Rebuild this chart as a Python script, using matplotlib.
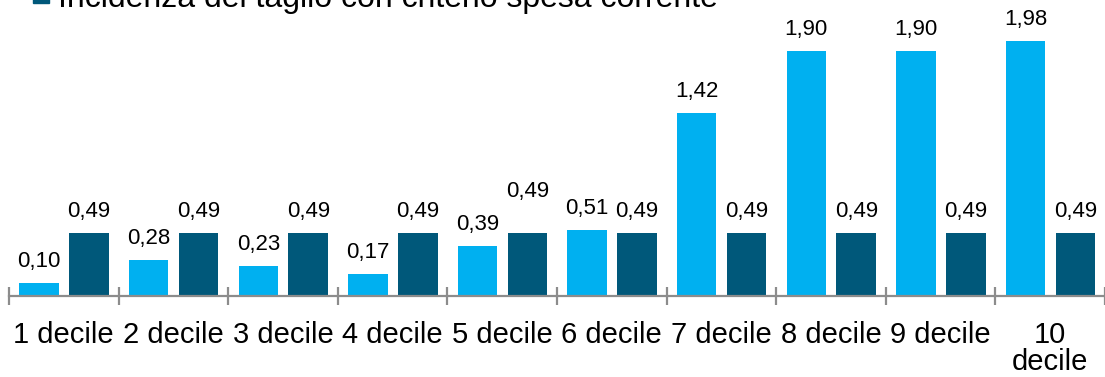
import matplotlib.pyplot as plt
from matplotlib.patches import Rectangle
import numpy as np

plt.rcParams["font.family"] = ["Liberation Sans", "DejaVu Sans"]

deciles = ["1 decile", "2 decile", "3 decile", "4 decile", "5 decile",
           "6 decile", "7 decile", "8 decile", "9 decile", "10\ndecile"]
lineare = [0.10, 0.28, 0.23, 0.17, 0.39, 0.51, 1.42, 1.90, 1.90, 1.98]
spesa_corrente = [0.49, 0.49, 0.49, 0.49, 0.49, 0.49, 0.49, 0.49, 0.49, 0.49]
legend_label = "Incidenza del taglio con criterio spesa corrente"

light = "#00B0F0"
dark = "#00587A"
axis_grey = "#8C8C8C"

W, H = 1105, 377
fig = plt.figure(figsize=(W / 100, H / 100), dpi=100)
# plot area: axis line 81px above the bottom, 110px per decile
ax = fig.add_axes([9 / W, 81 / H, 1096 / W, 296 / H])
ax.set_xlim(-0.5, -0.5 + 1096 / 110)
ax.set_ylim(0, 296 / 129)

x = np.arange(len(deciles))
width = 0.36
b1 = ax.bar(x - 0.225, lineare, width, color=light)
b2 = ax.bar(x + 0.23, spesa_corrente, width, color=dark)

def fmt(v):
    return "{:.2f}".format(v).replace(".", ",")

for rect, v in zip(b1, lineare):
    ax.annotate(fmt(v), (rect.get_x() + rect.get_width() / 2, v),
                xytext=(0, 11.5), textcoords="offset points",
                ha="center", va="baseline", fontsize=16)
for i, (rect, v) in enumerate(zip(b2, spesa_corrente)):
    lift = 14 if i == 4 else 0  # keep clear of the neighbouring label
    ax.annotate(fmt(v), (rect.get_x() + rect.get_width() / 2, v),
                xytext=(0, 11.5 + lift), textcoords="offset points",
                ha="center", va="baseline", fontsize=16)

for s in ["top", "left", "right"]:
    ax.spines[s].set_visible(False)
ax.spines["bottom"].set_color(axis_grey)
ax.spines["bottom"].set_linewidth(1.6)
ax.set_yticks([])

ax.set_xticks(x)
ax.set_xticklabels(deciles, fontsize=21, linespacing=0.95)
ax.tick_params(axis="x", which="major", length=0, pad=18)
ax.set_xticks(np.arange(-0.5, len(deciles), 1), minor=True)
ax.tick_params(axis="x", which="minor", direction="inout", length=12.5,
               width=1.6, color=axis_grey)

# legend entry (the first one sits above the visible area)
fig.patches.append(Rectangle((33 / W, 1 - 3 / H), 16 / W, 16 / H,
                             transform=fig.transFigure, color=dark))
fig.text(58 / W, 1 - 7 / H, legend_label, fontsize=23, va="baseline")

fig.savefig("out.png", dpi=100)
